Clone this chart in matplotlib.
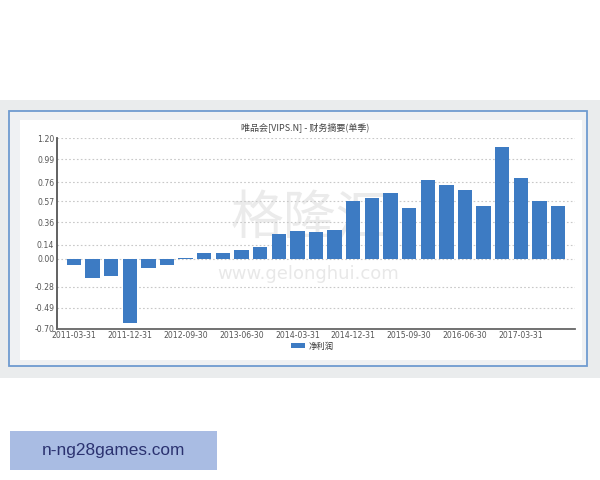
import matplotlib
matplotlib.use("Agg")
import matplotlib.pyplot as plt
from matplotlib.patches import Rectangle

quarters = ["2011-03-31", "2011-06-30", "2011-09-30", "2011-12-31",
            "2012-03-31", "2012-06-30", "2012-09-30", "2012-12-31",
            "2013-03-31", "2013-06-30", "2013-09-30", "2013-12-31",
            "2014-03-31", "2014-06-30", "2014-09-30", "2014-12-31",
            "2015-03-31", "2015-06-30", "2015-09-30", "2015-12-31",
            "2016-03-31", "2016-06-30", "2016-09-30", "2016-12-31",
            "2017-03-31", "2017-06-30", "2017-09-30"]
net_profit = [-0.06, -0.19, -0.17, -0.64,
              -0.09, -0.06, 0.01, 0.06,
              0.06, 0.09, 0.12, 0.25,
              0.27, 0.26, 0.28, 0.57,
              0.60, 0.65, 0.50, 0.78,
              0.73, 0.68, 0.52, 1.11,
              0.80, 0.57, 0.52]
y_ticks = [1.20, 0.99, 0.76, 0.57, 0.36, 0.14, 0.00, -0.28, -0.49, -0.70]
title = "唯品会[VIPS.N] - 财务摘要(单季)"
legend_label = "净利润"
footer = "n-ng28games.com"

W, H = 600, 480
fig = plt.figure(figsize=(6, 4.8), dpi=100)
fig.patch.set_facecolor("white")

def frect(x0, y0, x1, y1, **kw):
    r = Rectangle((x0 / W, 1 - y1 / H), (x1 - x0) / W, (y1 - y0) / H,
                  transform=fig.transFigure, **kw)
    fig.patches.append(r)
    return r

# panel background
frect(0, 100, 600, 378, facecolor="#eaeced", edgecolor="none", zorder=0)
frect(9, 111, 587, 366, facecolor="#eff1f3", edgecolor="#6f9bd0", linewidth=1.3, zorder=0.1)
frect(20, 120, 582, 360, facecolor="white", edgecolor="none", zorder=0.2)

# watermark
fig.text(310 / W, 1 - 218 / H, "格隆汇", fontsize=38, color="#ebebeb",
         family=["Noto Sans CJK SC", "DejaVu Sans"], ha="center", va="center", zorder=1)
fig.text(308 / W, 1 - 274 / H, "www.gelonghui.com", fontsize=13, color="#e8e8e8",
         ha="center", va="center", zorder=1)

ax = fig.add_axes([57 / W, 1 - 329 / H, (575 - 57) / W, (329 - 138) / H])
ax.set_zorder(2)
ax.set_facecolor("none")

x = list(range(len(net_profit)))
ax.bar(x, net_profit, width=0.77, color="#3d7bc3", zorder=2)

ax.set_xlim(-0.91, len(net_profit) - 1 + 0.91)
ax.set_ylim(-0.70, 1.20)
ax.set_yticks(y_ticks)
ax.set_yticklabels([f"{v:.2f}" for v in y_ticks])
xt = x[::3]
ax.set_xticks(xt)
ax.set_xticklabels([quarters[i] for i in xt])
ax.tick_params(axis="both", length=0, labelsize=5.6, labelcolor="#555555", pad=2)
ax.tick_params(axis="x", pad=1.5)
for s in ["top", "right"]:
    ax.spines[s].set_visible(False)
ax.spines["left"].set_color("#555555")
ax.spines["left"].set_linewidth(1.3)
ax.spines["bottom"].set_color("#666666")
ax.spines["bottom"].set_linewidth(1.3)
ax.yaxis.grid(True, color="#c8c8c8", linestyle=(0, (1.5, 2)), linewidth=0.8, zorder=0)
ax.set_axisbelow(True)

# title
fig.text(305 / W, 1 - 127 / H, title, fontsize=6.5, color="#444444",
         family=["Noto Sans CJK SC", "DejaVu Sans"], ha="center", va="center", zorder=3)

# legend
frect(291, 343, 305, 348, facecolor="#3d7bc3", edgecolor="none", zorder=3)
fig.text(309 / W, 1 - 346 / H, legend_label, fontsize=6, color="#333333",
         family=["Noto Sans CJK SC", "DejaVu Sans"], ha="left", va="center", zorder=3)

# footer box
frect(10, 431, 217, 470, facecolor="#a9bce3", edgecolor="none", zorder=0)
fig.text(113 / W, 1 - 450 / H, footer, fontsize=12.4, color="#2b3270",
         family=["Liberation Sans", "DejaVu Sans"], ha="center", va="center", zorder=3)

fig.savefig("out.png", dpi=100)
